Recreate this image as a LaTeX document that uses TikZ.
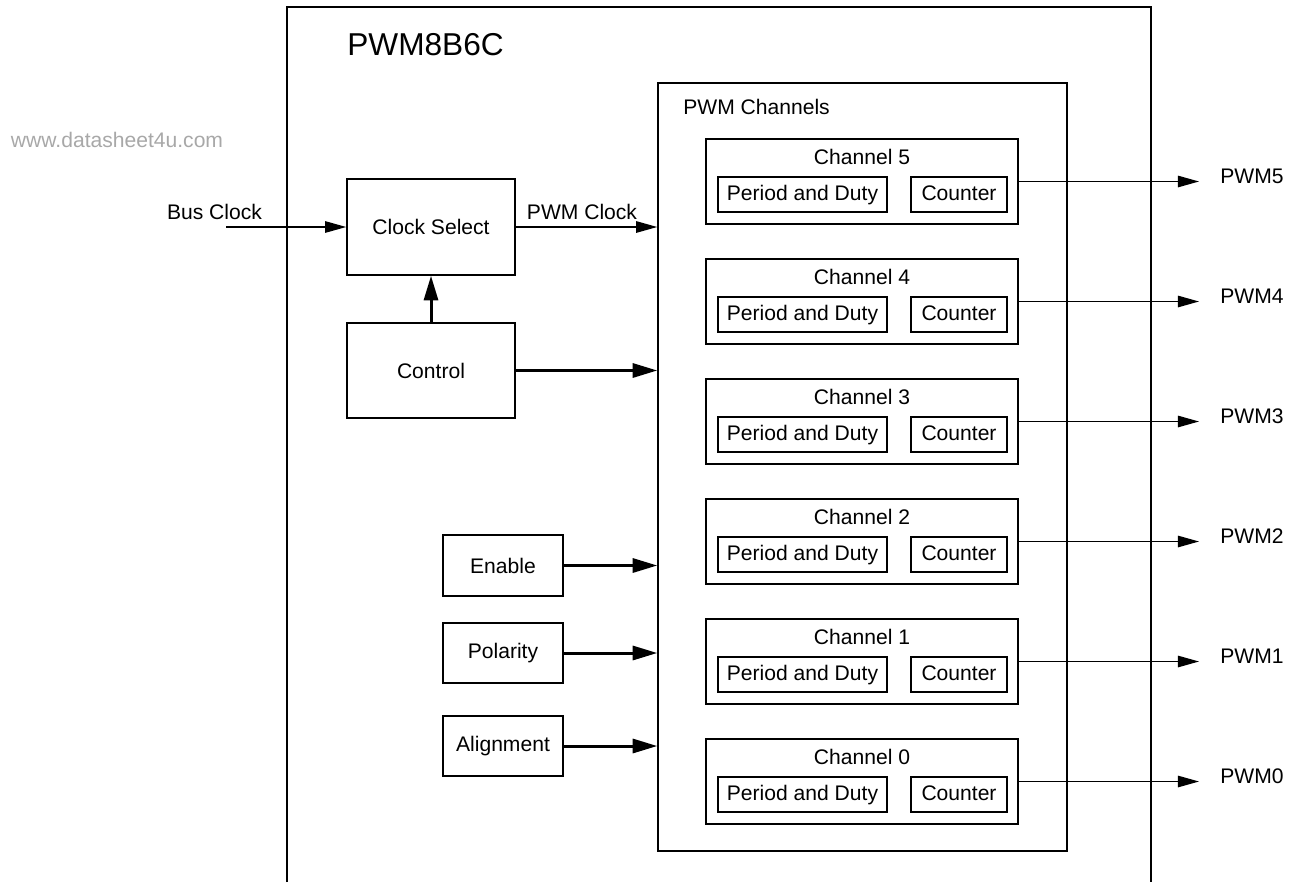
\documentclass[tikz,border=0pt]{standalone}
\usepackage{fontspec}
\setmainfont{Liberation Sans}
\usetikzlibrary{arrows.meta}
\definecolor{wmark}{HTML}{A8A8A8}

\begin{document}
\begin{tikzpicture}[x=0.02cm,y=-0.02cm,font=\fontsize{12}{14}\selectfont,
  blk/.style={draw,line width=0.9pt,inner sep=0pt,align=center},
  sub/.style={blk,minimum height=0.7cm,text height=1.55ex,text depth=.3ex},
  sig/.style={-{Triangle[length=12pt,width=6.5pt]},line width=0.8pt},
  bus/.style={-{Triangle[length=14pt,width=8pt]},line width=1.7pt},
  lab/.style={inner sep=0pt}]
\useasboundingbox (0,0) rectangle (1290,882);
\node[lab,wmark] (wm) at (117,140) {www.datasheet4u.com};
% module frame, open at the bottom
\draw[line width=0.9pt] (287,882) -- (287,7) -- (1151,7) -- (1151,882);
\node[lab,anchor=west,font=\fontsize{18}{21}\selectfont] (title) at (347,45) {PWM8B6C};
% left-hand blocks
\node[blk,minimum width=3.36cm,minimum height=1.92cm] (clk) at (431,227) {Clock Select};
\node[blk,minimum width=3.36cm,minimum height=1.9cm] (ctrl) at (431,370.5) {Control};
\node[blk,minimum width=2.4cm,minimum height=1.22cm] (en) at (503,565.5) {Enable};
\node[blk,minimum width=2.4cm,minimum height=1.2cm] (pol) at (503,653) {Polarity};
\node[blk,minimum width=2.4cm,minimum height=1.2cm] (aln) at (503,746) {Alignment};
% channel block
\node[blk,minimum width=8.18cm,minimum height=15.36cm] (chans) at (862.5,467) {};
\node[lab,anchor=west] (chanst) at (683,107) {PWM Channels};
\foreach \k/\y in {5/139,4/259,3/379,2/499,1/619,0/739} {
  \node[blk,minimum width=6.24cm,minimum height=1.7cm] (ch\k) at (862,\y+42.5) {};
  \node[lab] (tt\k) at (862,\y+18) {Channel \k};
  \node[sub,minimum width=3.38cm] (pd\k) at (802.5,\y+55.5) {Period and Duty};
  \node[sub,minimum width=1.92cm] (cn\k) at (959,\y+55.5) {Counter};
  \coordinate (o\k) at (1199,\y+42.5);
  \draw[sig] (ch\k.east) -- (o\k);
  \node[lab,anchor=west] (pwm\k) at (1220,\y+37) {PWM\k};
}
% clock path
\coordinate (busin) at (226,227);
\node[lab] (busl) at (214.5,212) {Bus Clock};
\draw[sig] (busin) -- (clk.west);
\draw[sig] (clk.east) -- (clk.east -| chans.west);
\node[lab] (pwmclk) at (582,212) {PWM Clock};
\draw[bus] (ctrl.north) -- (clk.south);
\draw[bus] (ctrl.east) -- (ctrl.east -| chans.west);
\draw[bus] (en.east) -- (en.east -| chans.west);
\draw[bus] (pol.east) -- (pol.east -| chans.west);
\draw[bus] (aln.east) -- (aln.east -| chans.west);
\end{tikzpicture}
\end{document}
